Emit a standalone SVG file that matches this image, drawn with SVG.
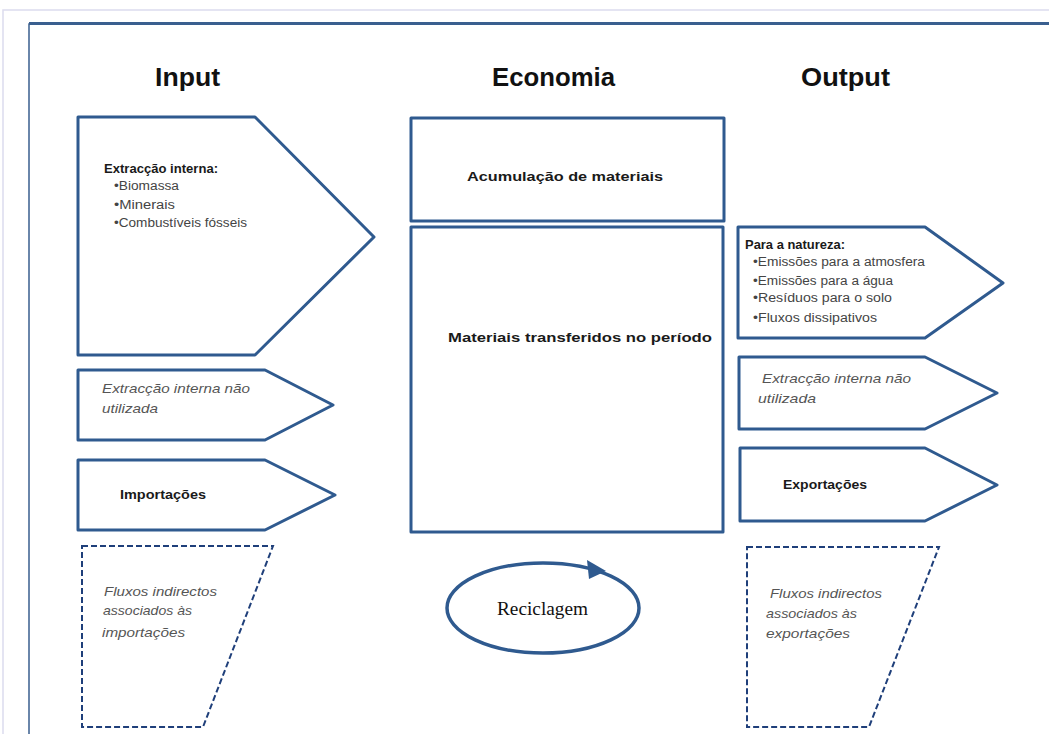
<svg xmlns="http://www.w3.org/2000/svg" width="1049" height="734" viewBox="0 0 1049 734">
<style>
.box{fill:#fff;stroke:#2f5a8f;stroke-width:3;stroke-linejoin:round}
.dash{fill:#fff;stroke:#1f3f7a;stroke-width:2;stroke-dasharray:6,3}
.title{font-family:"Liberation Sans",Arial,sans-serif;font-size:26px;font-weight:bold;fill:#111}
.b{font-family:"Liberation Sans",Arial,sans-serif;font-size:12.5px;font-weight:bold;fill:#1a1a1a}
.r{font-family:"Liberation Sans",Arial,sans-serif;font-size:12.5px;fill:#444}
.i{font-family:"Liberation Sans",Arial,sans-serif;font-size:13px;font-style:italic;fill:#555}
.s{font-family:"Liberation Serif","Times New Roman",serif;font-size:18px;fill:#111}
</style>
<rect x="0" y="0" width="1049" height="734" fill="#fff"/>
<path d="M3,734 V10 H1049" fill="none" stroke="#dcdcee" stroke-width="1.5"/>
<path d="M29,734 V24 H1049" fill="none" stroke="#3a5f8f" stroke-width="1.5"/>
<line x1="29" y1="23.5" x2="1049" y2="23.5" stroke="#3a5f8f" stroke-width="3"/>
<g id="titles">
<text class="title" x="155" y="86" textLength="65" lengthAdjust="spacingAndGlyphs">Input</text>
<text class="title" x="492" y="86" textLength="123" lengthAdjust="spacingAndGlyphs">Economia</text>
<text class="title" x="801" y="86" textLength="89" lengthAdjust="spacingAndGlyphs">Output</text>
</g>
<g id="input-extraccao">
<polygon class="box" points="78,117 255,117 374,237 255,355 78,355"/>
<text class="b" x="104" y="173" textLength="114" lengthAdjust="spacingAndGlyphs">Extracção interna:</text>
<text class="r" x="114" y="190" textLength="65" lengthAdjust="spacingAndGlyphs">•Biomassa</text>
<text class="r" x="114" y="209" textLength="61" lengthAdjust="spacingAndGlyphs">•Minerais</text>
<text class="r" x="114" y="227" textLength="133" lengthAdjust="spacingAndGlyphs">•Combustíveis fósseis</text>
</g>
<g id="input-nao-utilizada">
<polygon class="box" points="78,370 265,370 333,405 265,440 78,440"/>
<text class="i" x="102" y="393" textLength="148" lengthAdjust="spacingAndGlyphs">Extracção interna não</text>
<text class="i" x="102" y="413" textLength="56" lengthAdjust="spacingAndGlyphs">utilizada</text>
</g>
<g id="importacoes">
<polygon class="box" points="78,460 265,460 335,495 265,530 78,530"/>
<text class="b" x="120" y="499" textLength="86" lengthAdjust="spacingAndGlyphs">Importações</text>
</g>
<g id="fluxos-importacoes">
<polygon class="dash" points="82,546 273,546 203,727 82,727"/>
<text class="i" x="104" y="596" textLength="113" lengthAdjust="spacingAndGlyphs">Fluxos indirectos</text>
<text class="i" x="103" y="615" textLength="89" lengthAdjust="spacingAndGlyphs">associados às</text>
<text class="i" x="102" y="637" textLength="83" lengthAdjust="spacingAndGlyphs">importações</text>
</g>
<g id="acumulacao">
<rect class="box" x="411" y="118" width="313" height="103"/>
<text class="b" x="467" y="181" textLength="196" lengthAdjust="spacingAndGlyphs">Acumulação de materiais</text>
</g>
<g id="materiais">
<rect class="box" x="411" y="227" width="312" height="305"/>
<text class="b" x="448" y="342" textLength="264" lengthAdjust="spacingAndGlyphs">Materiais  transferidos no período</text>
</g>
<g id="reciclagem">
<ellipse cx="543" cy="608" rx="96" ry="45" fill="none" stroke="#2f5a8f" stroke-width="3.5"/>
<polygon points="587,560 606,571 589,579" fill="#2f5a8f"/>
<text class="s" x="497" y="615" textLength="91" lengthAdjust="spacingAndGlyphs">Reciclagem</text>
</g>
<g id="output-natureza">
<polygon class="box" points="738,227 925,227 1003,283 925,338 738,338"/>
<text class="b" x="745" y="249" textLength="100" lengthAdjust="spacingAndGlyphs">Para a natureza:</text>
<text class="r" x="753" y="266" textLength="172" lengthAdjust="spacingAndGlyphs">•Emissões para a atmosfera</text>
<text class="r" x="753" y="285" textLength="140" lengthAdjust="spacingAndGlyphs">•Emissões para a água</text>
<text class="r" x="753" y="302" textLength="139" lengthAdjust="spacingAndGlyphs">•Resíduos  para o solo</text>
<text class="r" x="753" y="322" textLength="124" lengthAdjust="spacingAndGlyphs">•Fluxos dissipativos</text>
</g>
<g id="output-nao-utilizada">
<polygon class="box" points="739,357 925,357 997,393 925,429 739,429"/>
<text class="i" x="762" y="383" textLength="149" lengthAdjust="spacingAndGlyphs">Extracção interna não</text>
<text class="i" x="758" y="403" textLength="58" lengthAdjust="spacingAndGlyphs">utilizada</text>
</g>
<g id="exportacoes">
<polygon class="box" points="740,448 925,448 997,485 925,521 740,521"/>
<text class="b" x="783" y="489" textLength="84" lengthAdjust="spacingAndGlyphs">Exportações</text>
</g>
<g id="fluxos-exportacoes">
<polygon class="dash" points="747,547 939,547 869,727 747,727"/>
<text class="i" x="770" y="598" textLength="112" lengthAdjust="spacingAndGlyphs">Fluxos indirectos</text>
<text class="i" x="766" y="618" textLength="91" lengthAdjust="spacingAndGlyphs">associados às</text>
<text class="i" x="766" y="638" textLength="84" lengthAdjust="spacingAndGlyphs">exportações</text>
</g>
<g id="connectors"></g>
</svg>
